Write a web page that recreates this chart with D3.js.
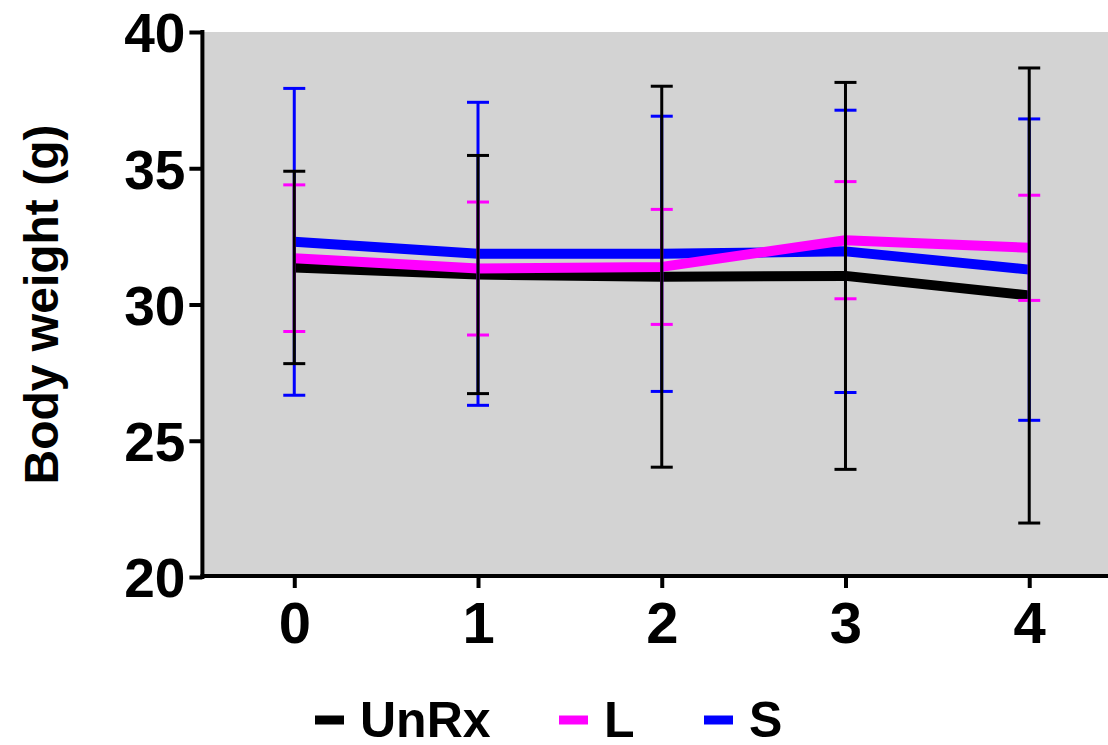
<!DOCTYPE html>
<html>
<head>
<meta charset="utf-8">
<script src="https://cdn.jsdelivr.net/npm/d3@7"></script>
<style>
  html, body { margin: 0; padding: 0; background: #fff; }
  svg { display: block; }
  text { font-family: "Liberation Sans", Arial, sans-serif; font-weight: bold; fill: #000; }
</style>
</head>
<body>
<svg id="chart" width="1108" height="745"></svg>
<script>
// Body weight over time, mean ± SD per group
const timePoints = [0, 1, 2, 3, 4];
const seriesNames = ["UnRx", "L", "S"];

const unrxMean = [31.36, 31.10, 31.02, 31.05, 30.33];
const unrxSD   = [3.53, 4.37, 6.99, 7.10, 8.35];
const lMean    = [31.70, 31.32, 31.38, 32.36, 32.08];
const lSD      = [2.69, 2.44, 2.11, 2.15, 1.93];
const sMean    = [32.30, 31.86, 31.86, 31.95, 31.28];
const sSD      = [5.63, 5.56, 5.05, 5.18, 5.53];

const yTicks = [20, 25, 30, 35, 40];
const yLabel = "Body weight (g)";

const colors = { UnRx: "#000000", L: "#ff00ff", S: "#0000ff" };

const series = [
  { name: "UnRx", mean: unrxMean, sd: unrxSD },
  { name: "L", mean: lMean, sd: lSD },
  { name: "S", mean: sMean, sd: sSD }
];

const svg = d3.select("#chart");

const plotLeft = 202.4, plotRight = 1121.1, plotTop = 32, plotBottom = 577;

const x = d3.scaleLinear().domain([-0.5, 4.5]).range([plotLeft, plotRight]);
const y = d3.scaleLinear().domain([20, 40]).range([plotBottom, plotTop]);

// plot background
svg.append("rect")
  .attr("x", plotLeft).attr("y", plotTop)
  .attr("width", plotRight - plotLeft).attr("height", plotBottom - plotTop)
  .attr("fill", "#d3d3d3");

// mean lines (drawn first so error bars sit over them)
const line = d3.line().x((d, i) => x(timePoints[i])).y(d => y(d));
["UnRx", "S", "L"].forEach(name => {
  const s = series.find(d => d.name === name);
  svg.append("path")
    .datum(s.mean)
    .attr("d", line)
    .attr("fill", "none")
    .attr("stroke", colors[name])
    .attr("stroke-width", 10)
    .attr("stroke-linejoin", "round");
});

// error bars
const capHalf = 11;
["S", "L", "UnRx"].forEach(name => {
  const s = series.find(d => d.name === name);
  const g = svg.append("g").attr("stroke", colors[name]).attr("stroke-width", 3);
  timePoints.forEach((t, i) => {
    const hi = s.mean[i] + s.sd[i], lo = s.mean[i] - s.sd[i];
    const cx = x(t);
    g.append("line").attr("x1", cx).attr("x2", cx).attr("y1", y(hi)).attr("y2", y(lo));
    g.append("line").attr("x1", cx - capHalf).attr("x2", cx + capHalf).attr("y1", y(hi)).attr("y2", y(hi));
    g.append("line").attr("x1", cx - capHalf).attr("x2", cx + capHalf).attr("y1", y(lo)).attr("y2", y(lo));
  });
});

// y axis
const yAxis = d3.axisLeft(y).tickValues(yTicks).tickSize(13).tickPadding(4).tickFormat(d3.format("d"));
const gy = svg.append("g").attr("transform", `translate(${plotLeft},0)`).call(yAxis);
gy.select(".domain").attr("stroke", "#000").attr("stroke-width", 4)
  .attr("d", `M0,${plotTop - 2}V${plotBottom + 2}`);
gy.selectAll(".tick line").attr("stroke", "#000").attr("stroke-width", 4);
gy.selectAll(".tick text").style("font-size", "55px").attr("dy", "0.36em").attr("x", -17);

// x axis
const xAxis = d3.axisBottom(x).tickValues(timePoints).tickSize(12).tickPadding(14).tickFormat(d3.format("d"));
const gx = svg.append("g").attr("transform", `translate(0,${plotBottom - 1})`).call(xAxis);
gx.select(".domain").attr("stroke", "#000").attr("stroke-width", 4)
  .attr("d", `M${plotLeft - 2},0H${plotRight}`);
gx.selectAll(".tick line").attr("stroke", "#000").attr("stroke-width", 4);
gx.selectAll(".tick text").style("font-size", "58px").attr("dy", "0.71em");

// y axis title
svg.append("text")
  .attr("transform", `translate(58,${(plotTop + plotBottom) / 2}) rotate(-90)`)
  .attr("text-anchor", "middle")
  .style("font-size", "48px")
  .text(yLabel);

// legend
const legendX = [315, 559, 704];
const legendY = 720;
series.forEach((s, i) => {
  svg.append("rect")
    .attr("x", legendX[i]).attr("y", legendY - 4.5)
    .attr("width", 29).attr("height", 9)
    .attr("fill", colors[s.name]);
  svg.append("text")
    .attr("x", legendX[i] + 45).attr("y", legendY + 17)
    .style("font-size", "50px")
    .text(s.name);
});
</script>
</body>
</html>
